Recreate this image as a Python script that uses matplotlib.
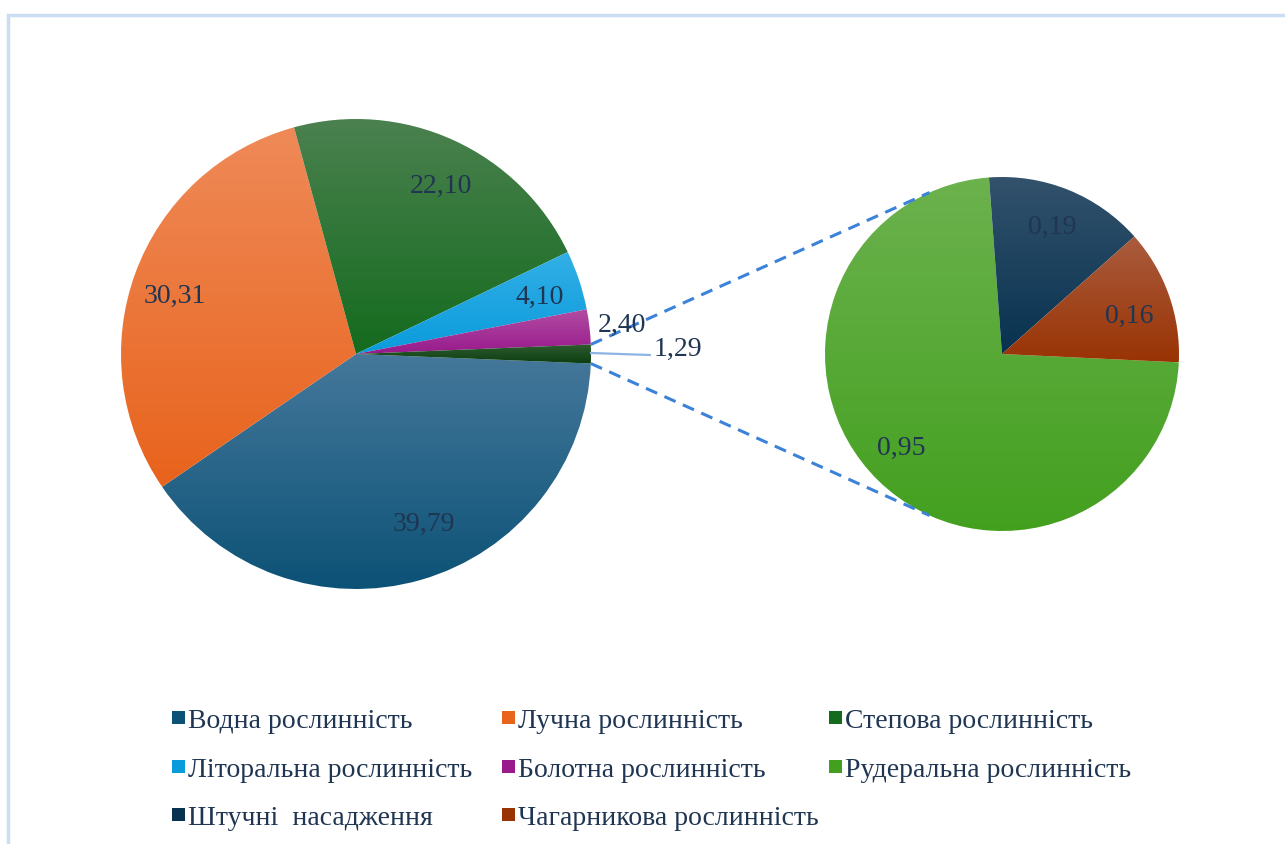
import numpy as np
import matplotlib
matplotlib.use('Agg')
import matplotlib.pyplot as plt
from matplotlib.colors import LinearSegmentedColormap
from matplotlib.patches import Rectangle

# ---------------- data ----------------
main_labels = ['Водна рослинність', 'Лучна рослинність', 'Степова рослинність',
               'Літоральна рослинність', 'Болотна рослинність']
main_values = [39.79, 30.31, 22.10, 4.10, 2.40]
other_value = 1.29
sub_labels = ['Рудеральна рослинність', 'Штучні  насадження', 'Чагарникова рослинність']
sub_values = [0.95, 0.19, 0.16]
legend_rows = [['Водна рослинність', 'Лучна рослинність', 'Степова рослинність'],
               ['Літоральна рослинність', 'Болотна рослинність', 'Рудеральна рослинність'],
               ['Штучні  насадження', 'Чагарникова рослинність']]

# ---------------- style ----------------
colors = {  # (bottom, top) of gradient
    'Водна рослинність': ('#0C5276', '#45789B'),
    'Лучна рослинність': ('#E8631C', '#EF8A58'),
    'Степова рослинність': ('#146B1E', '#4B814F'),
    'Літоральна рослинність': ('#0A9BDC', '#33AFE6'),
    'Болотна рослинність': ('#981A8C', '#B24DA3'),
    'other': ('#0B3D10', '#2E5C30'),
    'Рудеральна рослинність': ('#43A01F', '#6CB24E'),
    'Штучні  насадження': ('#073250', '#33526C'),
    'Чагарникова рослинність': ('#993304', '#AA5C3E'),
}
TXT = '#1F3552'
FONT = 'Liberation Serif'
FS = 20
W, H = 1285, 844
main_c, main_r = (356, H - 354), 235
sub_c, sub_r = (1002, H - 354), 177

fig = plt.figure(figsize=(W / 100, H / 100), dpi=100)
ax = fig.add_axes([0, 0, 1, 1])


def shade(w, bottom, top):
    x0, y0, x1, y1 = w.get_path().get_extents().extents
    grad = np.linspace(0, 1, 256).reshape(-1, 1)
    cmap = LinearSegmentedColormap.from_list('g', [bottom, top])
    im = ax.imshow(grad, extent=[x0, x1, y0, y1], origin='lower', cmap=cmap,
                   aspect='auto', interpolation='bilinear', zorder=2)
    im.set_clip_path(w)
    w.set_alpha(0)


def fmt(v):
    return f'{v:.2f}'.replace('.', ',')


# ---------------- main pie ----------------
vals = main_values + [other_value]
keys = main_labels + ['other']
start = -other_value / sum(vals) * 360 / 2
wedges, _ = ax.pie(vals, startangle=start, counterclock=False, center=main_c,
                   radius=main_r, wedgeprops=dict(linewidth=0), frame=True)
for w, k in zip(wedges, keys):
    shade(w, *colors[k])

main_lab_pos = [(0.78, 5.7), (0.81, 2.6), (0.80, -2.2), (0.82, -1.2), (1.14, -0.5), (1.37, 0.9)]
for w, v, (rf, dt) in zip(wedges, vals, main_lab_pos):
    a = np.deg2rad((w.theta1 + w.theta2) / 2 + dt)
    ax.text(main_c[0] + rf * main_r * np.cos(a), main_c[1] + rf * main_r * np.sin(a),
            fmt(v), ha='center', va='center', fontsize=FS, family=FONT, color=TXT, zorder=5)

# leader for "other" label
ow = wedges[-1]
am = np.deg2rad((ow.theta1 + ow.theta2) / 2)
ax.plot([main_c[0] + main_r * np.cos(am), main_c[0] + 1.25 * main_r * np.cos(am)],
        [main_c[1] + main_r * np.sin(am) + 1, main_c[1] + 1.25 * main_r * np.sin(am) - 1],
        color='#8EB4E3', lw=1.6, zorder=4)

# ---------------- secondary pie ----------------
sw, _ = ax.pie(sub_values, startangle=-2.7, counterclock=False, center=sub_c,
               radius=sub_r, wedgeprops=dict(linewidth=0), frame=True)
for w, k in zip(sw, sub_labels):
    shade(w, *colors[k])
sub_lab_pos = [(0.78, -2.6), (0.77, 0.5), (0.75, -3.0)]
for w, v, (rf, dt) in zip(sw, sub_values, sub_lab_pos):
    a = np.deg2rad((w.theta1 + w.theta2) / 2 + dt)
    ax.text(sub_c[0] + rf * sub_r * np.cos(a), sub_c[1] + rf * sub_r * np.sin(a),
            fmt(v), ha='center', va='center', fontsize=FS, family=FONT, color=TXT, zorder=5)

# ---------------- connector (tangent) lines ----------------
for th, sgn in ((ow.theta2, -1), (ow.theta1, 1)):
    t = np.deg2rad(th)
    P = np.array([main_c[0] + main_r * np.cos(t), main_c[1] + main_r * np.sin(t)])
    d = P - np.array(sub_c)
    dist = np.hypot(*d)
    phi = np.arctan2(d[1], d[0])
    alpha = np.arccos(sub_r / dist)
    ta = phi + sgn * alpha
    T = np.array([sub_c[0] + sub_r * np.cos(ta), sub_c[1] + sub_r * np.sin(ta)])
    ax.plot([P[0], T[0]], [P[1], T[1]], color='#3B82D8', lw=2.2,
            ls=(0, (4, 2.6)), zorder=4, solid_capstyle='butt')

# ---------------- legend (manual grid) ----------------
col_x = [172, 502, 829]
row_base = [728, 777, 825]
for r, row in enumerate(legend_rows):
    for c, name in enumerate(row):
        x0 = col_x[c]
        yb = H - row_base[r]
        ax.add_patch(Rectangle((x0, yb + 4), 13, 13, facecolor=colors[name][0],
                               edgecolor='none', zorder=5))
        ax.text(x0 + 16, yb, name, ha='left', va='baseline', fontsize=FS,
                family=FONT, color=TXT, zorder=5)

# ---------------- frame ----------------
ax.plot([8, 8, W], [0, H - 15, H - 15], color='#CADDF3', lw=2.5, zorder=1,
        solid_joinstyle='miter')

ax.set_xlim(0, W)
ax.set_ylim(0, H)
ax.set_aspect('equal')
ax.axis('off')
fig.savefig('out.png', dpi=100, facecolor='white')
